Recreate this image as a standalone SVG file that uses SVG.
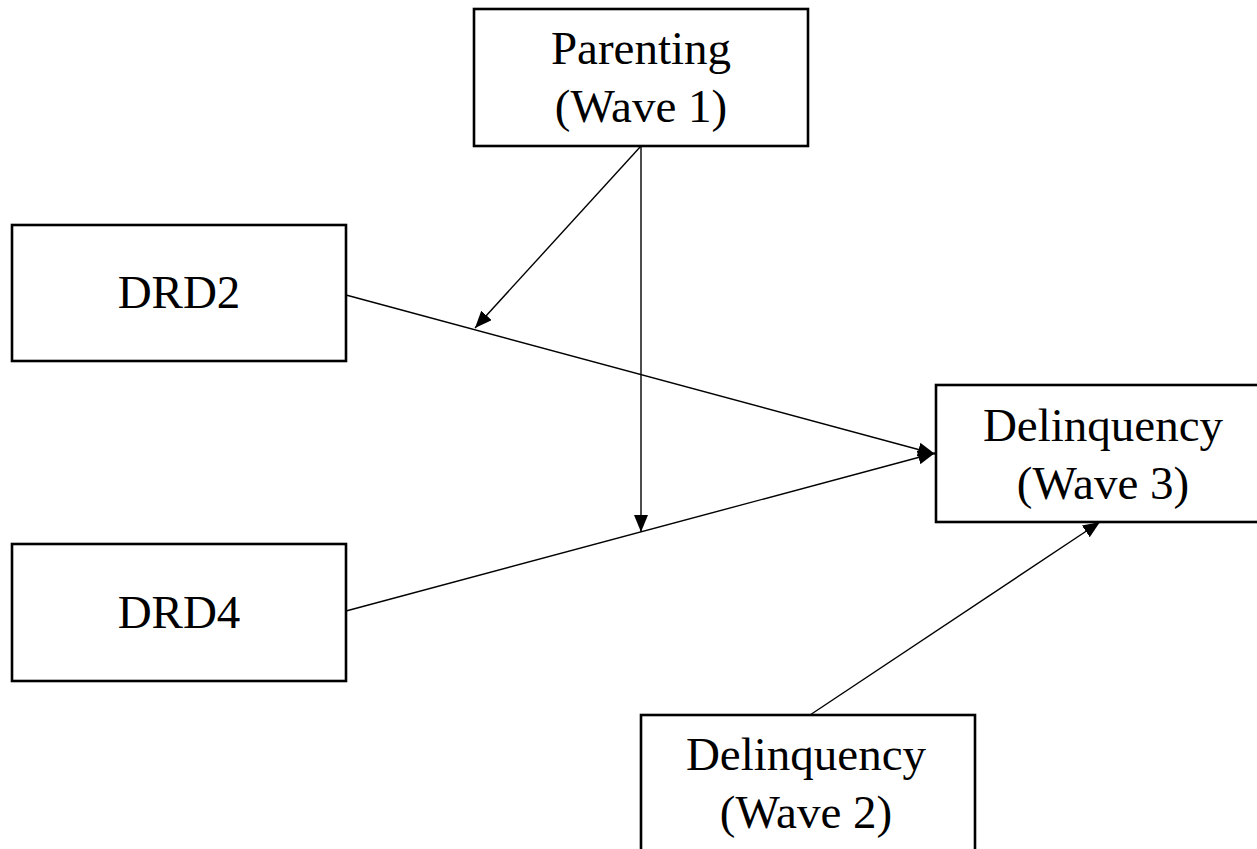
<svg xmlns="http://www.w3.org/2000/svg" width="1257" height="849" viewBox="0 0 1257 849">
<style>
.box{fill:#fff;stroke:#000;stroke-width:2.6}
.lbl{font-family:"Liberation Serif","Times New Roman",serif;font-size:47px;fill:#000;text-anchor:middle}
.edge{fill:none;stroke:#000;stroke-width:1.4}
</style>
<defs>
<marker id="ah" markerUnits="userSpaceOnUse" markerWidth="18" markerHeight="14" refX="17" refY="7" orient="auto">
<path d="M0,0 L17,7 L0,14 z" fill="#000"/>
</marker>
</defs>
<rect width="1257" height="849" fill="#fff"/>
<g id="parenting">
<rect class="box" x="474" y="9" width="334" height="137"/>
<text class="lbl" x="641" y="64">Parenting</text>
<text class="lbl" x="641" y="122">(Wave 1)</text>
</g>
<g id="drd2">
<rect class="box" x="12" y="225" width="334" height="136"/>
<text class="lbl" x="179" y="308">DRD2</text>
</g>
<g id="drd4">
<rect class="box" x="12" y="544" width="334" height="137"/>
<text class="lbl" x="179" y="628">DRD4</text>
</g>
<g id="delinq3">
<rect class="box" x="936" y="385" width="334" height="137"/>
<text class="lbl" x="1103" y="441">Delinquency</text>
<text class="lbl" x="1103" y="499">(Wave 3)</text>
</g>
<g id="delinq2">
<rect class="box" x="641" y="715" width="334" height="150"/>
<text class="lbl" x="806" y="770">Delinquency</text>
<text class="lbl" x="806" y="828">(Wave 2)</text>
</g>
<g id="connectors">
<line class="edge" x1="346" y1="295" x2="935" y2="454" marker-end="url(#ah)"/>
<line class="edge" x1="346" y1="611" x2="935" y2="453" marker-end="url(#ah)"/>
<line class="edge" x1="641" y1="146" x2="475" y2="328" marker-end="url(#ah)"/>
<line class="edge" x1="641" y1="146" x2="641" y2="532" marker-end="url(#ah)"/>
<line class="edge" x1="810" y1="715" x2="1100" y2="522" marker-end="url(#ah)"/>
</g>
</svg>
